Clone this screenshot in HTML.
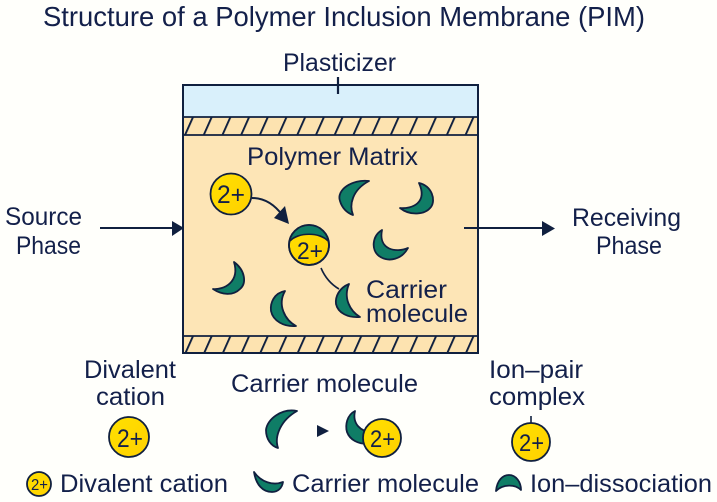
<!DOCTYPE html>
<html><head><meta charset="utf-8"><style>
html,body{margin:0;padding:0;background:#fffffb}
svg{display:block}
text{font-family:"Liberation Sans",sans-serif;fill:#13204a;font-size:25px}
.c{fill:#0f7d66;stroke:#10203f;stroke-width:1.8;stroke-linejoin:round}
.y{fill:url(#g);stroke:#10203f;stroke-width:1.8}
</style></head><body>
<svg width="717" height="502" viewBox="0 0 717 502" xmlns="http://www.w3.org/2000/svg">
<defs>
<linearGradient id="g" x1="0" y1="0" x2="1" y2="1"><stop offset="0" stop-color="#ffe100"/><stop offset="1" stop-color="#ffd000"/></linearGradient>
<pattern id="h1" patternUnits="userSpaceOnUse" width="18.7" height="18" patternTransform="translate(192 117) skewX(-24)"><rect width="18.7" height="18" fill="#fde3b0"/><line x1="1" y1="0" x2="1" y2="18" stroke="#10203f" stroke-width="2.2"/></pattern>
<pattern id="h2" patternUnits="userSpaceOnUse" width="18.7" height="18" patternTransform="translate(192 336) skewX(-24)"><rect width="18.7" height="18" fill="#fde3b0"/><line x1="1" y1="0" x2="1" y2="18" stroke="#10203f" stroke-width="2.2"/></pattern>
<clipPath id="top"><circle cx="309" cy="245" r="20"/></clipPath>
</defs>
<rect width="717" height="502" fill="#fffffb"/>
<text x="43" y="26" style="font-size:28px" textLength="602" lengthAdjust="spacingAndGlyphs">Structure of a Polymer Inclusion Membrane (PIM)</text>
<text x="283" y="71" textLength="113" lengthAdjust="spacingAndGlyphs">Plasticizer</text>

<rect x="183" y="85" width="295" height="32" fill="#d9f0fb"/>
<rect x="183" y="117" width="295" height="18" fill="url(#h1)"/>
<rect x="183" y="135" width="295" height="201" fill="#fde5b6"/>
<rect x="183" y="336" width="295" height="17" fill="url(#h2)"/>
<path d="M183 117H478M183 135H478M183 336H478" stroke="#10203f" stroke-width="1.8" fill="none"/>
<rect x="183" y="85" width="295" height="268" fill="none" stroke="#10203f" stroke-width="2"/>
<line x1="338" y1="77" x2="338" y2="94" stroke="#10203f" stroke-width="2.2"/>

<text x="247" y="165" textLength="171" lengthAdjust="spacingAndGlyphs">Polymer Matrix</text>

<text x="5" y="225" textLength="77" lengthAdjust="spacingAndGlyphs">Source</text>
<text x="16" y="254" textLength="65" lengthAdjust="spacingAndGlyphs">Phase</text>
<line x1="100" y1="228" x2="175" y2="228" stroke="#10203f" stroke-width="2"/>
<polygon points="172,221 184,228 172,236" fill="#10203f"/>
<line x1="464" y1="228" x2="545" y2="228" stroke="#10203f" stroke-width="2"/>
<polygon points="542,221 555,228.500 542,236" fill="#10203f"/>
<text x="572" y="226" textLength="109" lengthAdjust="spacingAndGlyphs">Receiving</text>
<text x="596" y="254" textLength="66" lengthAdjust="spacingAndGlyphs">Phase</text>

<path class="c" d="M369,181 C352,179 336,190 340,201 C342,208 347,213 353,215 C349,205 352,190 369,181 Z"/>
<path class="c" d="M419,183 C432,186 436,200 431,207 C425,215 410,216 400,208 C412,209 428,203 419,183 Z"/>
<path class="c" d="M382,230 C372,236 371,250 379,256 C389,263 402,259 408,248 C396,253 378,250 382,230 Z"/>
<path class="c" d="M234,262 C245,270 247,283 240,289 C233,296 222,295 213,289 C224,290 240,282 234,262 Z"/>
<path class="c" d="M285,291 C274,293 270,303 271,311 C273,321 284,327 296,326 C285,320 277,305 285,291 Z"/>
<path class="c" d="M349,284 C339,288 335,297 336,304 C338,313 348,318 360,317 C350,311 343,298 349,284 Z"/>

<circle class="y" cx="231" cy="194" r="20.500"/>
<text x="217" y="203" style="font-size:25px" textLength="28" lengthAdjust="spacingAndGlyphs">2+</text>
<path d="M252,198 C265,198 275,205 283,216" fill="none" stroke="#10203f" stroke-width="2"/>
<polygon points="289,224 274,218 285,206" fill="#10203f"/>

<circle class="y" cx="309" cy="245" r="20"/>
<path d="M288,246 V224 H331 V246 L328,241 C320,232 298,232 290,241 Z" fill="#0f7d66" clip-path="url(#top)"/>
<path d="M290,241 C298,232 320,232 328,241" fill="none" stroke="#10203f" stroke-width="1.6"/>
<circle cx="309" cy="245" r="20" fill="none" stroke="#10203f" stroke-width="1.8"/>
<text x="297" y="259" style="font-size:24px" textLength="26" lengthAdjust="spacingAndGlyphs">2+</text>
<path d="M321,268 Q327,282 339,289" fill="none" stroke="#10203f" stroke-width="1.6"/>

<text x="366" y="298" textLength="81" lengthAdjust="spacingAndGlyphs">Carrier</text>
<text x="366" y="322" textLength="102" lengthAdjust="spacingAndGlyphs">molecule</text>

<text x="84" y="378" textLength="92" lengthAdjust="spacingAndGlyphs">Divalent</text>
<text x="96" y="405" textLength="69" lengthAdjust="spacingAndGlyphs">cation</text>
<circle class="y" cx="129" cy="437" r="20"/>
<text x="117" y="447" style="font-size:25px" textLength="26" lengthAdjust="spacingAndGlyphs">2+</text>

<text x="231" y="392" textLength="187" lengthAdjust="spacingAndGlyphs">Carrier molecule</text>
<path class="c" d="M297,411 C282,408 267,419 266,430 C266,439 271,446 278,448 C274,436 281,420 297,411 Z"/>
<polygon points="317,425 329,431 317,437" fill="#10203f"/>
<path class="c" d="M355,411 C347,415 345,425 347,432 C350,440 358,444 368,444 L372,432 C361,432 352,424 355,411 Z"/>
<circle class="y" cx="382" cy="438" r="19"/>
<text x="370" y="447" style="font-size:24px" textLength="25" lengthAdjust="spacingAndGlyphs">2+</text>

<text x="489" y="378" textLength="94" lengthAdjust="spacingAndGlyphs">Ion–pair</text>
<text x="489" y="405" textLength="96" lengthAdjust="spacingAndGlyphs">complex</text>
<line x1="531" y1="416" x2="531" y2="424" stroke="#10203f" stroke-width="1.6"/>
<circle class="y" cx="531" cy="442" r="19"/>
<text x="519" y="451" style="font-size:24px" textLength="25" lengthAdjust="spacingAndGlyphs">2+</text>

<circle class="y" cx="39" cy="484" r="12"/>
<text x="31" y="490" style="font-size:16px" textLength="17" lengthAdjust="spacingAndGlyphs">2+</text>
<text x="60" y="492" textLength="168" lengthAdjust="spacingAndGlyphs">Divalent cation</text>
<path class="c" d="M254,472 C256,485 263,492 272,492 C278,492 282,488 283,482 C273,486 261,482 254,472 Z"/>
<text x="292" y="492" textLength="187" lengthAdjust="spacingAndGlyphs">Carrier molecule</text>
<path class="c" d="M496,491 C497,480 503,475 509,475 C516,475 521,482 521,490 C515,484 503,484 496,491 Z"/>
<text x="530" y="492" textLength="182" lengthAdjust="spacingAndGlyphs">Ion–dissociation</text>
</svg>
</body></html>
